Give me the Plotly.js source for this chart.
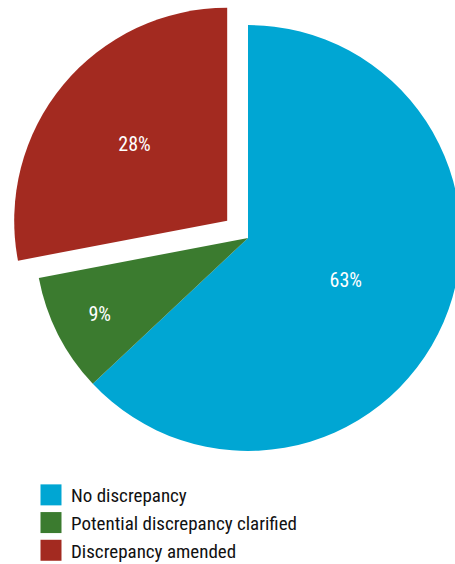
<!DOCTYPE html>
<html><head><meta charset="utf-8">
<script src="https://cdn.plot.ly/plotly-3.0.1.min.js"></script>
<style>
html,body{margin:0;padding:0;overflow:hidden;background:#fff;width:455px;height:564px;}
#chart{position:absolute;left:0;top:-20px;width:500px;height:600px;}
</style></head>
<body><div id="chart"></div>
<script>
const categories = ["No discrepancy", "Potential discrepancy clarified", "Discrepancy amended"];
const values = [63, 9, 28];
const colors = ["#00A6D3", "#3B7B2F", "#A32A20"];
const pulls = [0, 0, 0.127];
const FONT = '"Roboto Condensed", "Liberation Sans Narrow", "DejaVu Sans Condensed", Roboto, sans-serif';

Plotly.newPlot('chart', [{
  type: 'pie',
  labels: categories,
  values: values,
  marker: {colors: colors, line: {width: 0}},
  pull: pulls,
  sort: false,
  direction: 'clockwise',
  rotation: 0,
  textinfo: 'percent',
  texttemplate: '%{percent:.0%}',
  textposition: 'inside',
  insidetextorientation: 'horizontal',
  textfont: {color: '#ffffff', size: 20, family: FONT},
  hoverinfo: 'none',
  domain: {x: [0.016, 0.976], y: [0.17, 0.97]}
}], {
  width: 500, height: 600,
  margin: {l: 0, r: 0, t: 0, b: 0},
  paper_bgcolor: '#ffffff',
  showlegend: true,
  legend: {x: 0.062, xanchor: 'left', y: 0.1733, yanchor: 'top', font: {size: 19, color: '#111111', family: FONT}, bgcolor: 'rgba(0,0,0,0)'},
  font: {family: FONT}
}, {staticPlot: true, displayModeBar: false}).then(function(gd){
  gd.querySelectorAll('.legendpoints path').forEach(function(p){
    p.setAttribute('d', 'M10.5,10.5H-10.5V-10.5H10.5Z');
    p.style.strokeWidth = '0';
  });
});
</script></body></html>
